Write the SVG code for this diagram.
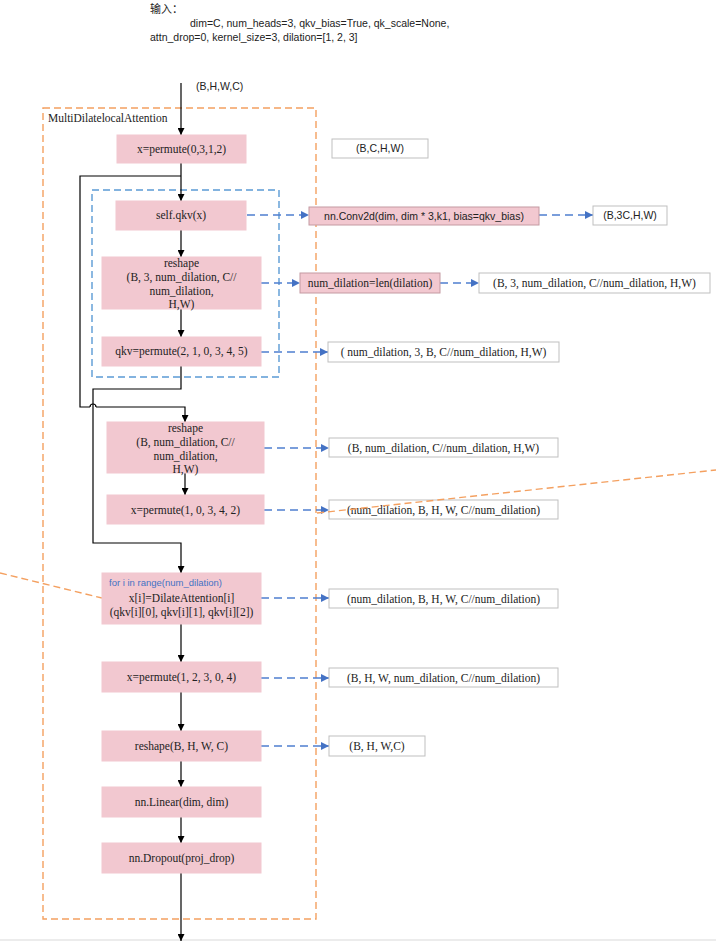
<svg xmlns="http://www.w3.org/2000/svg" width="716" height="941" viewBox="0 0 716 941">
<defs>
<marker id="ab" viewBox="0 0 10 10" refX="10" refY="5" markerWidth="7" markerHeight="7" markerUnits="userSpaceOnUse" orient="auto"><path d="M0,0 L10,5 L0,10 z" fill="#000"/></marker>
<marker id="au" viewBox="0 0 10 10" refX="10" refY="5" markerWidth="8" markerHeight="8" markerUnits="userSpaceOnUse" orient="auto"><path d="M0,0 L10,5 L0,10 z" fill="#4472c4"/></marker>
</defs>
<style>
.n{fill:#f2c8d0;stroke:#f2c8d0;stroke-width:1}
.n2{fill:#f2c8d0;stroke:#c49aa2;stroke-width:1}
.o{fill:#fff;stroke:#bfbfbf;stroke-width:1}
.t{font-family:"Liberation Serif",serif;font-size:11.5px;fill:#222;text-anchor:middle}
.s{font-family:"Liberation Sans",sans-serif;font-size:10.5px;fill:#222;text-anchor:middle}
.k{fill:none;stroke:#000;stroke-width:1.2}
.b{fill:none;stroke:#4f7fd0;stroke-width:1.3;stroke-dasharray:8,5}
.or{fill:none;stroke:#f4a060;stroke-width:1.4;stroke-dasharray:7,4}
.bl{fill:none;stroke:#5b9bd5;stroke-width:1.4;stroke-dasharray:7,4}
</style>
<rect width="716" height="941" fill="#fff"/>
<g id="header">
<text x="150" y="13" font-family="Liberation Sans, 'Noto Sans CJK SC', sans-serif" font-size="11px" fill="#222">输入：</text>
<text x="190" y="27" font-family="Liberation Sans, sans-serif" font-size="10.5px" fill="#222">dim=C, num_heads=3, qkv_bias=True,  qk_scale=None,</text>
<text x="150" y="41" font-family="Liberation Sans, sans-serif" font-size="10.5px" fill="#222">attn_drop=0, kernel_size=3, dilation=[1, 2, 3]</text>
</g>
<g id="frames">
<rect class="or" x="43" y="108" width="273" height="811"/>
<text x="48" y="122" font-family="Liberation Serif, serif" font-size="11.5px" fill="#222">MultiDilatelocalAttention</text>
<rect class="bl" x="92" y="190" width="187" height="187"/>
<line class="or" x1="0" y1="573" x2="102" y2="598"/>
<line x1="0" y1="940" x2="716" y2="940" stroke="#d9d9d9" stroke-width="1"/>
</g>
<g id="connectors">
<line class="k" x1="181" y1="83" x2="181" y2="135" marker-end="url(#ab)"/>
<text x="196" y="90" font-family="Liberation Sans, sans-serif" font-size="10.5px" fill="#222">(B,H,W,C)</text>
<line class="k" x1="181" y1="163" x2="181" y2="201" marker-end="url(#ab)"/>
<polyline class="k" points="181,176 80,176 80,407 90,407"/>
<path class="k" d="M90,407 A3,3 0 0 1 96,407"/>
<polyline class="k" points="96,407 185,407 185,422" marker-end="url(#ab)"/>
<line class="k" x1="181" y1="230" x2="181" y2="257" marker-end="url(#ab)"/>
<line class="k" x1="181" y1="309" x2="181" y2="337" marker-end="url(#ab)"/>
<polyline class="k" points="181,366 181,389 93,389 93,543 181,543 181,573" marker-end="url(#ab)"/>
<line class="k" x1="185" y1="473" x2="185" y2="495" marker-end="url(#ab)"/>
<line class="k" x1="181" y1="624" x2="181" y2="662" marker-end="url(#ab)"/>
<line class="k" x1="181" y1="692" x2="181" y2="731" marker-end="url(#ab)"/>
<line class="k" x1="181" y1="761" x2="181" y2="787" marker-end="url(#ab)"/>
<line class="k" x1="181" y1="817" x2="181" y2="843" marker-end="url(#ab)"/>
<line class="k" x1="181" y1="873" x2="181" y2="941" marker-end="url(#ab)"/>
<line class="b" x1="247" y1="215" x2="309" y2="215" marker-end="url(#au)"/>
<line class="b" x1="539" y1="215" x2="593" y2="215" marker-end="url(#au)"/>
<line class="b" x1="261" y1="283" x2="300" y2="283" marker-end="url(#au)"/>
<line class="b" x1="440" y1="283" x2="479" y2="283" marker-end="url(#au)"/>
<line class="b" x1="261" y1="352" x2="328" y2="352" marker-end="url(#au)"/>
<line class="b" x1="264" y1="448" x2="329" y2="448" marker-end="url(#au)"/>
<line class="b" x1="264" y1="510" x2="329" y2="510" marker-end="url(#au)"/>
<line class="b" x1="261" y1="598" x2="329" y2="598" marker-end="url(#au)"/>
<line class="b" x1="261" y1="678" x2="329" y2="678" marker-end="url(#au)"/>
<line class="b" x1="261" y1="746" x2="329" y2="746" marker-end="url(#au)"/>
</g>
<g id="permute0"><rect class="n" x="117" y="135" width="129" height="28"/><text class="t" x="181.5" y="153">x=permute(0,3,1,2)</text></g>
<g id="shape_bchw"><rect class="o" x="332" y="139" width="96" height="19"/><text class="s" x="380" y="152">(B,C,H,W)</text></g>
<g id="qkv"><rect class="n" x="116" y="201" width="130" height="29"/><text class="t" x="181" y="219">self.qkv(x)</text></g>
<g id="conv"><rect class="n2" x="309" y="207" width="230" height="18"/><text class="s" x="424" y="219.5">nn.Conv2d(dim, dim * 3,k1, bias=qkv_bias)</text></g>
<g id="shape_b3c"><rect class="o" x="593" y="206" width="74" height="19"/><text class="s" x="630" y="219">(B,3C,H,W)</text></g>
<g id="reshape1"><rect class="n" x="102" y="257" width="159" height="52"/>
<text class="t" x="181.5" y="267">reshape</text><text class="t" x="181.5" y="281">(B, 3, num_dilation, C//</text><text class="t" x="181.5" y="295">num_dilation,</text><text class="t" x="181.5" y="308">H,W)</text></g>
<g id="numdil"><rect class="n2" x="300" y="273" width="140" height="20"/><text class="t" x="370" y="287">num_dilation=len(dilation)</text></g>
<g id="shape_b3n"><rect class="o" x="479" y="273" width="231" height="20"/><text class="t" x="594.5" y="287">(B, 3, num_dilation, C//num_dilation, H,W)</text></g>
<g id="permute1"><rect class="n" x="102" y="337" width="159" height="29"/><text class="t" x="181.5" y="355">qkv=permute(2, 1, 0, 3, 4, 5)</text></g>
<g id="shape_n3b"><rect class="o" x="328" y="342" width="231" height="20"/><text class="t" x="443.5" y="356">( num_dilation, 3, B, C//num_dilation, H,W)</text></g>
<g id="reshape2"><rect class="n" x="107" y="422" width="157" height="51"/>
<text class="t" x="185.5" y="432">reshape</text><text class="t" x="185.5" y="446">(B, num_dilation, C//</text><text class="t" x="185.5" y="460">num_dilation,</text><text class="t" x="185.5" y="473">H,W)</text></g>
<g id="shape_bn"><rect class="o" x="329" y="438" width="229" height="19"/><text class="t" x="443.5" y="452">(B, num_dilation, C//num_dilation, H,W)</text></g>
<g id="permute2"><rect class="n" x="107" y="495" width="157" height="29"/><text class="t" x="185.5" y="513.5">x=permute(1, 0, 3, 4, 2)</text></g>
<g id="shape_nbhw1"><rect class="o" x="329" y="500" width="229" height="19"/><text class="t" x="443.5" y="514">(num_dilation, B, H, W, C//num_dilation)</text></g>
<g id="loop"><rect class="n" x="102" y="573" width="159" height="51"/>
<text x="109" y="586" font-family="Liberation Sans, sans-serif" font-size="9.5px" fill="#4472c4">for i in range(num_dilation)</text>
<text class="t" x="181.5" y="602">x[i]=DilateAttention[i]</text><text class="t" x="181.5" y="616">(qkv[i][0], qkv[i][1], qkv[i][2])</text></g>
<g id="shape_nbhw2"><rect class="o" x="329" y="589" width="229" height="19"/><text class="t" x="443.5" y="603">(num_dilation, B, H, W, C//num_dilation)</text></g>
<g id="permute3"><rect class="n" x="102" y="662" width="159" height="30"/><text class="t" x="181.5" y="681">x=permute(1, 2, 3, 0, 4)</text></g>
<g id="shape_bhwn"><rect class="o" x="329" y="668" width="229" height="19"/><text class="t" x="443.5" y="682">(B, H, W, num_dilation, C//num_dilation)</text></g>
<g id="reshape3"><rect class="n" x="102" y="731" width="159" height="30"/><text class="t" x="181.5" y="750">reshape(B, H, W, C)</text></g>
<g id="shape_bhwc"><rect class="o" x="329" y="736" width="96" height="20"/><text class="t" x="377" y="750">(B, H, W,C)</text></g>
<g id="linear"><rect class="n" x="102" y="787" width="159" height="30"/><text class="t" x="181.5" y="806">nn.Linear(dim, dim)</text></g>
<g id="dropout"><rect class="n" x="102" y="843" width="159" height="30"/><text class="t" x="181.5" y="862">nn.Dropout(proj_drop)</text></g>
<g id="overlay"><line class="or" x1="317" y1="513" x2="716" y2="470"/></g>
</svg>
